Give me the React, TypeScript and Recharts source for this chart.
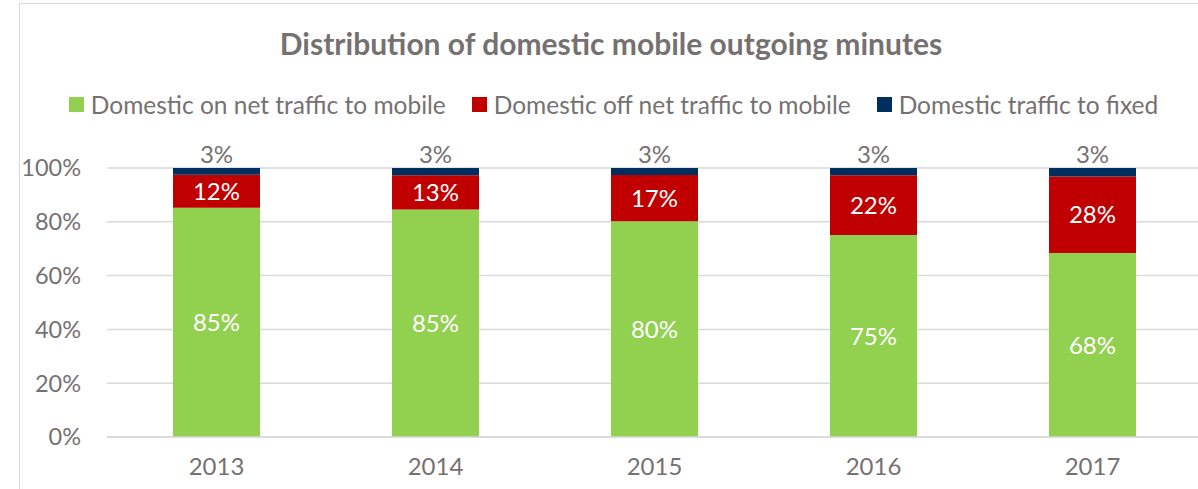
import { BarChart, Bar, XAxis, YAxis, CartesianGrid, LabelList } from "recharts";

const years = ["2013", "2014", "2015", "2016", "2017"];
const onNetToMobile = [85.2, 84.6, 80.2, 75.1, 68.4];
const offNetToMobile = [12.3, 12.7, 17.2, 22.2, 28.4];
const toFixed = [2.5, 2.7, 2.6, 2.7, 3.2];
const yTicks = [0, 20, 40, 60, 80, 100];

const series = [
  { key: "onNet", name: "Domestic on net traffic to mobile", color: "#92D050" },
  { key: "offNet", name: "Domestic off net traffic to mobile", color: "#C00000" },
  { key: "fixed", name: "Domestic traffic to fixed", color: "#002F5F" },
];

const data = years.map((year, i) => ({
  year,
  onNet: onNetToMobile[i],
  offNet: offNetToMobile[i],
  fixed: toFixed[i],
}));

const FONT = "Lato, 'Open Sans', sans-serif";
const GREY = "#767171";

const pct = (v: unknown) => `${Math.round(Number(v))}%`;

export default function App() {
  return (
    <div
      style={{
        position: "absolute",
        left: 0,
        top: 0,
        width: 1198,
        height: 489,
        overflow: "hidden",
        background: "#fff",
        fontFamily: FONT,
      }}
    >
      <div
        style={{
          position: "absolute",
          left: 19,
          top: 3,
          width: 1400,
          height: 700,
          border: "1px solid #d9d9d9",
        }}
      />
      <div
        style={{
          position: "absolute",
          left: 0,
          top: 28,
          width: 1222,
          textAlign: "center",
          fontSize: 30,
          lineHeight: "30px",
          fontWeight: 700,
          color: GREY,
        }}
      >
        Distribution of domestic mobile outgoing minutes
      </div>
      <div
        style={{
          position: "absolute",
          left: 0,
          top: 92,
          width: 1227,
          display: "flex",
          justifyContent: "center",
          gap: 26,
          fontSize: 24.5,
          lineHeight: "25px",
          color: GREY,
        }}
      >
        {series.map((s) => (
          <div key={s.key} style={{ display: "flex", alignItems: "center", gap: 7 }}>
            <span style={{ width: 15, height: 15, background: s.color, display: "inline-block" }} />
            <span>{s.name}</span>
          </div>
        ))}
      </div>
      <div style={{ position: "absolute", left: 0, top: 0 }}>
        <BarChart
          width={1210}
          height={489}
          data={data}
          margin={{ top: 168, right: 8, left: 10, bottom: 12 }}
        >
          <CartesianGrid vertical={false} stroke="#d9d9d9" strokeWidth={1.5} />
          <XAxis
            dataKey="year"
            height={40}
            tickLine={false}
            axisLine={{ stroke: "#d9d9d9", strokeWidth: 1.5 }}
            tickSize={0}
            tickMargin={21}
            tick={{ fontSize: 24, fill: GREY, fontFamily: FONT }}
          />
          <YAxis
            width={97}
            domain={[0, 100]}
            ticks={yTicks}
            allowDataOverflow
            tickFormatter={(v) => `${v}%`}
            axisLine={false}
            tickLine={false}
            tickSize={0}
            tickMargin={26}
            tick={{ fontSize: 23.5, fill: GREY, fontFamily: FONT }}
          />
          {series.map((s) => (
            <Bar
              key={s.key}
              dataKey={s.key}
              name={s.name}
              stackId="a"
              fill={s.color}
              barSize={87}
              isAnimationActive={false}
            >
              <LabelList
                dataKey={s.key}
                position={s.key === "fixed" ? "top" : "center"}
                formatter={pct}
                fill={s.key === "fixed" ? GREY : "#ffffff"}
                fontSize={24}
                fontFamily={FONT}
              />
            </Bar>
          ))}
        </BarChart>
      </div>
    </div>
  );
}
